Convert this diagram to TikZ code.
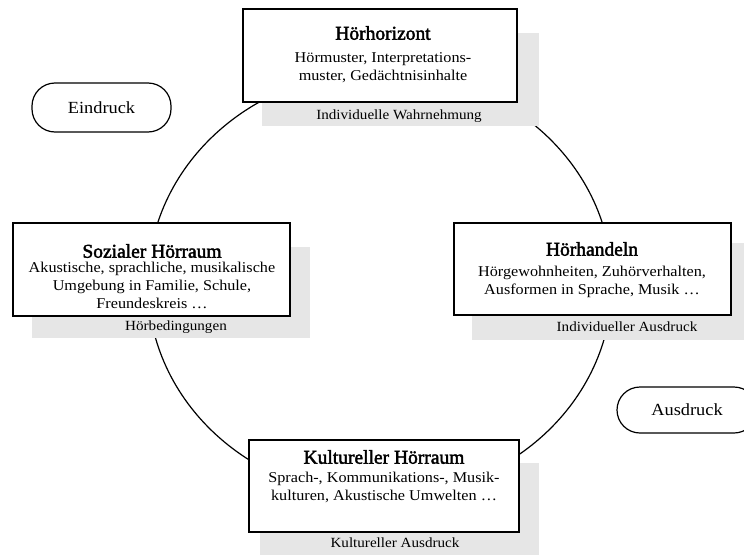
\documentclass[tikz,border=0pt]{standalone}
\usepackage{fontspec}
\setmainfont{Liberation Serif}[FakeStretch=1.08]
\newfontfamily\titlefont{Liberation Serif}[FakeBold=2.2,FakeStretch=1.0]
\definecolor{shade}{RGB}{230,230,230}
\begin{document}
\begin{tikzpicture}[x=1pt,y=-1pt,
  shadowbox/.style={fill=shade, draw=none, inner sep=0pt},
  mainbox/.style={draw=black, fill=white, line width=1.2pt, inner sep=0pt},
  ttl/.style={font=\titlefont\fontsize{19.5}{22}\selectfont, inner sep=0pt, align=center},
  bodytxt/.style={font=\fontsize{15}{18}\selectfont, inner sep=0pt, align=center},
  lbl/.style={font=\fontsize{14}{16}\selectfont, inner sep=0pt},
  pill/.style={draw=black, fill=white, line width=1.2pt, rounded corners=23pt, inner sep=0pt, font=\fontsize{17}{20}\selectfont}]
\useasboundingbox (0,0) rectangle (744,554);
% ring
\draw[line width=1.2pt] (380,284) ellipse [x radius=232, y radius=213];
% shadows
\node[shadowbox, minimum width=277, minimum height=93] (sTop) at (400.5,79.5) {};
\node[shadowbox, minimum width=278, minimum height=91] (sLeft) at (171,292.5) {};
\node[shadowbox, minimum width=280, minimum height=97] (sRight) at (612,291.5) {};
\node[shadowbox, minimum width=279, minimum height=94] (sBot) at (399.5,510) {};
\node[lbl] (lTop) at (399,116) {Individuelle Wahrnehmung};
\node[lbl] (lLeft) at (176,327) {Hörbedingungen};
\node[lbl] (lRight) at (627,327) {Individueller Ausdruck};
\node[lbl] (lBot) at (395,543) {Kultureller Ausdruck};
% boxes
\node[mainbox, minimum width=274, minimum height=93] (bTop) at (380,55.5) {};
\node[mainbox, minimum width=277, minimum height=93] (bLeft) at (151.5,269.5) {};
\node[mainbox, minimum width=277, minimum height=92] (bRight) at (592.5,269) {};
\node[mainbox, minimum width=270, minimum height=92] (bBot) at (384,486) {};
% texts
\node[ttl] (tTop) at (383,33) {Hörhorizont};
\node[bodytxt] (xTop) at (383,68) {Hörmuster, Interpretations-\\muster, Gedächtnisinhalte};
\node[ttl] (tLeft) at (152,251) {Sozialer Hörraum};
\node[bodytxt] (xLeft) at (152,285) {Akustische, sprachliche, musikalische\\Umgebung in Familie, Schule,\\Freundeskreis …};
\node[ttl] (tRight) at (592,249) {Hörhandeln};
\node[bodytxt] (xRight) at (592,282) {Hörgewohnheiten, Zuhörverhalten,\\Ausformen in Sprache, Musik …};
\node[ttl] (tBot) at (384,457) {Kultureller Hörraum};
\node[bodytxt] (xBot) at (384,487) {Sprach-, Kommunikations-, Musik-\\kulturen, Akustische Umwelten …};
% pills
\node[pill, minimum width=139, minimum height=49] (pIn) at (101.5,107.5) {Eindruck};
\node[pill, minimum width=140, minimum height=46] (pOut) at (687,410) {Ausdruck};
\end{tikzpicture}
\end{document}
